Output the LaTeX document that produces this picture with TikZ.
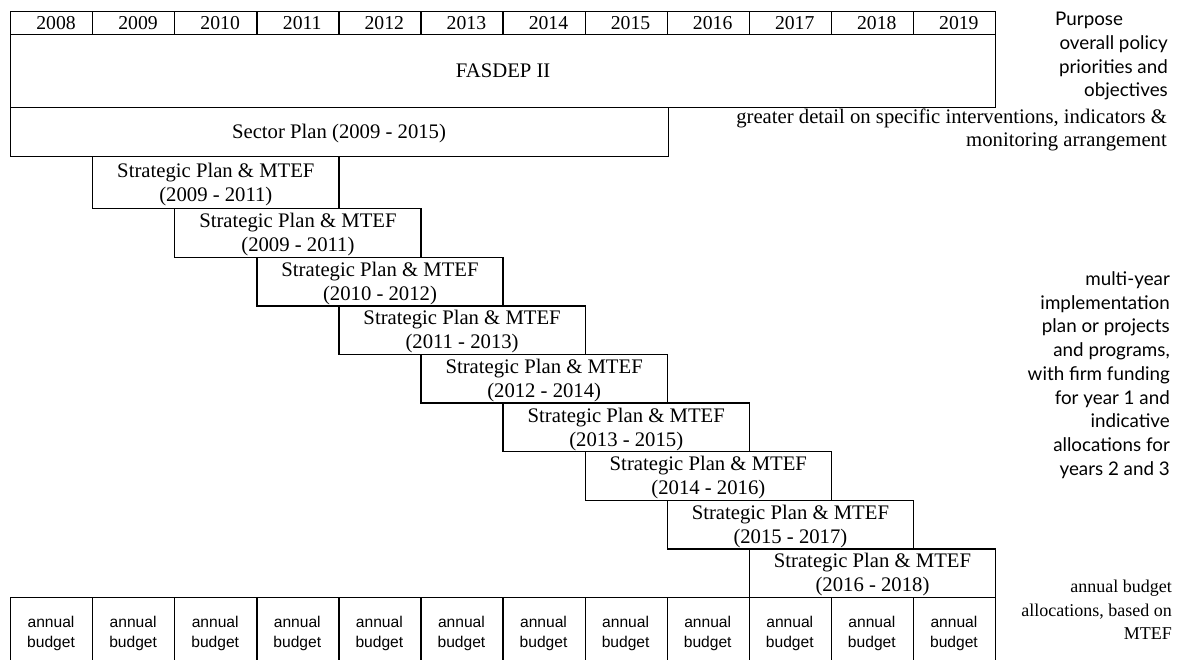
\documentclass[tikz,border=0pt]{standalone}
\usepackage{fontspec}
\setmainfont{Liberation Serif}
\newfontfamily\humsans{Lato}
\newfontfamily\cellsans{Liberation Sans}
\begin{document}
\begin{tikzpicture}[x=1pt,y=-1pt,
  box/.style={draw, line width=1.3pt, inner sep=0pt, anchor=north west},
  yeartxt/.style={inner sep=0pt, font=\fontsize{19.7}{24}\selectfont},
  txt/.style={inner sep=0pt, font=\fontsize{20.7}{24}\selectfont},
  sptxt/.style={inner sep=0pt, anchor=north, align=center, font=\fontsize{20.7}{24}\selectfont},
  celltxt/.style={inner sep=0pt, anchor=north, align=center, font=\cellsans\fontsize{15.6}{20.5}\selectfont},
  sidehum/.style={inner sep=0pt, anchor=north east, align=right, font=\humsans\fontsize{18.8}{23.7}\selectfont},
  sideserif/.style={inner sep=0pt, anchor=north east, align=right, font=\fontsize{20.7}{23.2}\selectfont},
  sidesmall/.style={inner sep=0pt, anchor=north east, align=right, font=\fontsize{18}{23.5}\selectfont}]
\useasboundingbox (0,0) rectangle (1177,659);
\def\cw{82.08}
% year row
\foreach \i in {0,...,11} {
  \pgfmathtruncatemacro{\yr}{2008+\i}
  \node[box, minimum width=82.08pt, minimum height=23pt] (y\i) at ({10+\cw*\i},11) {};
  \node[yeartxt] (yt\i) at ({10+\cw*\i+46},23.3) {\yr};
}
% FASDEP II
\node[box, minimum width=985pt, minimum height=73pt, font=\fontsize{20.7}{24}\selectfont] (fasdep) at (10,34) {FASDEP II};
% Sector plan
\node[box, minimum width=657.5pt, minimum height=49pt] (sector) at (10,107) {};
\node[txt] (sectort) at (339,133.6) {Sector Plan (2009 - 2015)};
% Strategic plans
\node[box, minimum width=246.24pt, minimum height=52pt] (s1) at ({10+\cw},156) {};
\node[sptxt] (s1t) at ([yshift=-7.4pt]s1.north) {Strategic Plan \& MTEF\\(2009 - 2011)};
\foreach \k in {2,...,9} {
  \pgfmathtruncatemacro{\ya}{2007+\k}
  \pgfmathtruncatemacro{\yb}{2009+\k}
  \node[box, minimum width=246.24pt, minimum height=48.6pt] (s\k) at ({10+\cw*\k},{208+48.6*(\k-2)}) {};
  \node[sptxt] (s\k t) at ([yshift=-5.2pt]s\k.north) {Strategic Plan \& MTEF\\(\ya\ - \yb)};
}
% annual budgets
\foreach \i in {0,...,11} {
  \node[box, minimum width=82.08pt, minimum height=66pt] (a\i) at ({10+\cw*\i},597) {};
  \node[celltxt] (at\i) at ({10+\cw*\i+41.04},615.8) {annual\\budget};
}
% side texts
\node[inner sep=0pt, anchor=base west, font=\humsans\fontsize{18.8}{23.7}\selectfont] (purpose) at (1055,25) {Purpose};
\node[sidehum] (overall) at (1168,35.5) {overall policy\\priorities and\\objectives};
\node[sideserif] (greater) at (1167,109) {greater detail on specific interventions, indicators \&\\monitoring arrangement};
\node[sidehum] (multi) at (1170,271.5) {multi-year\\implementation\\plan or projects\\and programs,\\with firm funding\\for year 1 and\\indicative\\allocations for\\years 2 and 3};
\node[sidesmall] (annualside) at (1172,580) {annual budget\\allocations, based on\\MTEF};
\end{tikzpicture}
\end{document}
